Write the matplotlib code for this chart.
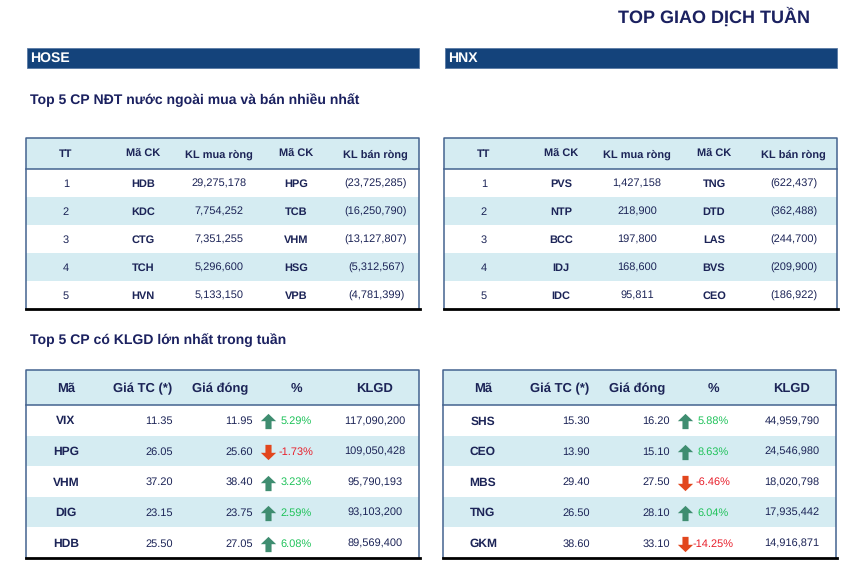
import numpy as np
import matplotlib.pyplot as plt
from matplotlib.patches import Rectangle
from matplotlib.path import Path

plt.rcParams['font.family'] = ['Liberation Sans', 'DejaVu Sans']
plt.rcParams['text.hinting'] = 'no_hinting'
plt.rcParams['text.hinting_factor'] = 1

# data
hose_buy_codes = ['HDB', 'KDC', 'CTG', 'TCH', 'HVN']
hose_buy_vol = [29275178, 7754252, 7351255, 5296600, 5133150]
hose_sell_codes = ['HPG', 'TCB', 'VHM', 'HSG', 'VPB']
hose_sell_vol = [23725285, 16250790, 13127807, 5312567, 4781399]

hnx_buy_codes = ['PVS', 'NTP', 'BCC', 'IDJ', 'IDC']
hnx_buy_vol = [1427158, 218900, 197800, 168600, 95811]
hnx_sell_codes = ['TNG', 'DTD', 'LAS', 'BVS', 'CEO']
hnx_sell_vol = [622437, 362488, 244700, 209900, 186922]

hose_top_codes = ['VIX', 'HPG', 'VHM', 'DIG', 'HDB']
hose_ref = [11.35, 26.05, 37.20, 23.15, 25.50]
hose_close = [11.95, 25.60, 38.40, 23.75, 27.05]
hose_pct = [5.29, -1.73, 3.23, 2.59, 6.08]
hose_klgd = [117090200, 109050428, 95790193, 93103200, 89569400]

hnx_top_codes = ['SHS', 'CEO', 'MBS', 'TNG', 'GKM']
hnx_ref = [15.30, 13.90, 29.40, 26.50, 38.60]
hnx_close = [16.20, 15.10, 27.50, 28.10, 33.10]
hnx_pct = [5.88, 8.63, -6.46, 6.04, -14.25]
hnx_klgd = [44959790, 24546980, 18020798, 17935442, 14916871]

hdr1 = ['TT', 'Mã CK', 'KL mua ròng', 'Mã CK', 'KL bán ròng']
hdr2 = ['Mã', 'Giá TC (*)', 'Giá đóng', '%', 'KLGD']

# colours
NAVY = '#1b2160'
BAR = '#14437b'
LIGHT = '#d5ecf2'
BORDER = '#44638f'
TXT = '#1c2457'
GREEN = '#1fc25a'
RED = '#e8202c'
ARR_G = '#3f8d70'
ARR_R = '#e2461d'
FS = 8.0

up_arrow = Path([(0, 0.5), (0.5, 0.02), (0.2, 0.02), (0.2, -0.5), (-0.2, -0.5),
                 (-0.2, 0.02), (-0.5, 0.02), (0, 0.5)])
down_arrow = Path(np.array(up_arrow.vertices) * [1, -1])

fig = plt.figure(figsize=(8.64, 5.68), dpi=100)
ax = fig.add_axes([0, 0, 1, 1])
ax.set_xlim(0, 864)
ax.set_ylim(568, 0)
ax.axis('off')

W = 393
lefts = [26, 444]


def frame(left, top, hh, rh, n):
    ax.add_patch(Rectangle((left, top), W, hh, fc=LIGHT, ec='none'))
    for i in range(n):
        if i % 2 == 1:
            ax.add_patch(Rectangle((left, top + hh + i * rh), W, rh, fc=LIGHT, ec='none'))
    bot = top + hh + n * rh
    ax.plot([left, left, left + W, left + W], [bot, top, top, bot], color=BORDER, lw=1.1)
    ax.plot([left, left + W], [top + hh, top + hh], color=BORDER, lw=1.1)
    ax.plot([left - 0.5, left + W + 0.5], [bot, bot], color='black', lw=2)


# title + section bars
ax.text(810, 17, 'TOP GIAO DỊCH TUẦN', ha='right', va='center', fontsize=12.8,
        fontweight='bold', color=NAVY)
for left, name in zip(lefts, ['HOSE', 'HNX']):
    ax.add_patch(Rectangle((left + 1, 48), W - 1, 20, fc=BAR, ec='#5a7aa5', lw=0.6))
    ax.text(left + 4, 58.5, name, ha='left', va='center', fontsize=10,
            fontweight='bold', color='white')
ax.text(30, 100, 'Top 5 CP NĐT nước ngoài mua và bán nhiều nhất', ha='left',
        va='center', fontsize=10.2, fontweight='bold', color=NAVY)
ax.text(30, 340, 'Top 5 CP có KLGD lớn nhất trong tuần', ha='left',
        va='center', fontsize=10.2, fontweight='bold', color=NAVY)

# table 1: foreign net buy / sell
t1_top, t1_hh, t1_rh = 138, 31, 28
cols1 = [40, 117, 193, 270, 349]
for left, bc, bv, sc, sv in [(lefts[0], hose_buy_codes, hose_buy_vol, hose_sell_codes, hose_sell_vol),
                             (lefts[1], hnx_buy_codes, hnx_buy_vol, hnx_sell_codes, hnx_sell_vol)]:
    frame(left, t1_top, t1_hh, t1_rh, len(bc))
    for cx, h in zip(cols1, hdr1):
        ax.text(left + cx, t1_top + t1_hh / 2 + 1, h, ha='center', va='center',
                fontsize=FS, fontweight='bold', color=TXT)
    for i in range(len(bc)):
        y = t1_top + t1_hh + (i + 0.5) * t1_rh + 1
        ax.text(left + cols1[0], y, str(i + 1), ha='center', va='center', fontsize=FS, color=TXT)
        ax.text(left + cols1[1], y, bc[i], ha='center', va='center', fontsize=FS,
                fontweight='bold', color=TXT)
        ax.text(left + cols1[2], y, f'{bv[i]:,}', ha='center', va='center', fontsize=FS, color=TXT)
        ax.text(left + cols1[3], y, sc[i], ha='center', va='center', fontsize=FS,
                fontweight='bold', color=TXT)
        ax.text(left + cols1[4] + 1, y, f'({sv[i]:,})', ha='center', va='center',
                fontsize=FS, color=TXT)

# table 2: top volume
t2_top, t2_hh, t2_rh = 370, 35, 30.6
cols2 = [40, 117, 194, 270, 349]
for left, codes, ref, close, pct, vol in [(lefts[0], hose_top_codes, hose_ref, hose_close, hose_pct, hose_klgd),
                                          (lefts[1] - 1, hnx_top_codes, hnx_ref, hnx_close, hnx_pct, hnx_klgd)]:
    frame(left, t2_top, t2_hh, t2_rh, len(codes))
    for cx, h in zip(cols2, hdr2):
        ax.text(left + cx, t2_top + t2_hh / 2 + 1, h, ha='center', va='center',
                fontsize=9.3, fontweight='bold', color=TXT)
    for i in range(len(codes)):
        y = t2_top + t2_hh + (i + 0.5) * t2_rh + 1
        ax.text(left + cols2[0], y, codes[i], ha='center', va='center', fontsize=FS + 0.4,
                fontweight='bold', color=TXT)
        ax.text(left + 147, y, f'{ref[i]:.2f}', ha='right', va='center', fontsize=FS, color=TXT)
        ax.text(left + 227, y, f'{close[i]:.2f}', ha='right', va='center', fontsize=FS, color=TXT)
        up = pct[i] >= 0
        ax.plot(left + 242, y, marker=up_arrow if up else down_arrow, ms=11,
                color=ARR_G if up else ARR_R, mew=0)
        ax.text(left + cols2[3], y, f'{pct[i]:.2f}%', ha='center', va='center',
                fontsize=FS, color=GREEN if up else RED)
        ax.text(left + cols2[4], y, f'{vol[i]:,}', ha='center', va='center', fontsize=FS, color=TXT)

plt.savefig('out.png', dpi=100, facecolor='white')
